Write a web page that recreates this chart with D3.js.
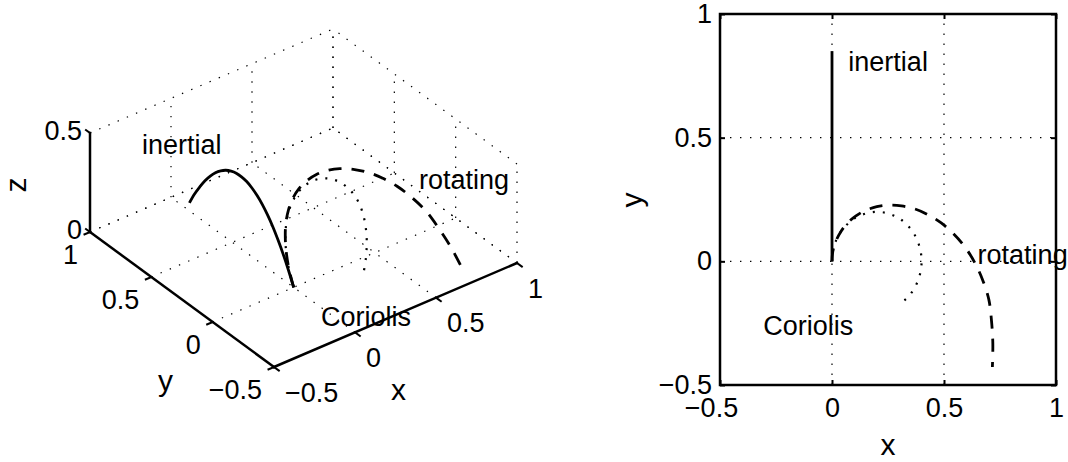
<!DOCTYPE html>
<html><head><meta charset="utf-8">
<script src="https://cdn.jsdelivr.net/npm/d3@7"></script>
<style>
body{margin:0;background:#fff}
svg{display:block}
text{font-family:"Liberation Sans",Arial,Helvetica,sans-serif;font-size:27px;fill:#000}
.lab{font-size:30px}
</style></head><body>
<svg id="c" width="1068" height="462"></svg>
<script>
// ---------------- data ----------------
const tickVals = [-0.5, 0, 0.5, 1];
const tickLabels = ["\u22120.5", "0", "0.5", "1"];
const zTickVals = [0, 0.5];
const zTickLabels = ["0", "0.5"];

const inertialX = [0,0,0,0,0,0,0,0,0,0,0,0,0,0,0,0,0,0,0,0,0];
const inertialY = [0,0.043,0.085,0.128,0.17,0.213,0.255,0.298,0.34,0.383,0.425,0.468,0.51,0.553,0.595,0.638,0.68,0.723,0.765,0.808,0.85];
const rotatingX = [0,0.004,0.018,0.040,0.069,0.107,0.150,0.200,0.253,0.310,0.369,0.428,0.486,0.541,0.592,0.636,0.672,0.700,0.712,0.718,0.716];
const rotatingY = [0,0.042,0.083,0.121,0.155,0.184,0.206,0.221,0.227,0.224,0.212,0.189,0.156,0.113,0.060,-0.003,-0.074,-0.154,-0.240,-0.332,-0.427];
const coriolisX = [0,0.004,0.017,0.038,0.067,0.101,0.139,0.180,0.222,0.263,0.301,0.335,0.363,0.383,0.396,0.400,0.395,0.382,0.361,0.332,0.298];
const coriolisY = [0,0.042,0.082,0.118,0.149,0.174,0.190,0.199,0.199,0.190,0.173,0.148,0.116,0.080,0.039,-0.002,-0.043,-0.082,-0.119,-0.151,-0.174];
const heightZ   = [0,0.068,0.128,0.182,0.229,0.269,0.302,0.328,0.347,0.360,0.365,0.364,0.355,0.340,0.318,0.289,0.253,0.210,0.160,0.104,0.040];

const labelNames = ["inertial", "rotating", "Coriolis"];
const labelPos2D = [[0.073, 0.768], [0.650, -0.011], [-0.307, -0.298]];
const labelPos3D = [[142, 154], [419, 189], [321, 326]];

// ---------------- styles ----------------
const svg = d3.select("#c");
const DOT = "1.4,8.6";
const DASH = "13,10";
const CDOT = "2,8";
function gridLine(g, a, b) {
  g.append("line").attr("x1", a[0]).attr("y1", a[1]).attr("x2", b[0]).attr("y2", b[1])
    .attr("stroke", "#000").attr("stroke-width", 1.2).attr("stroke-dasharray", DOT);
}
function solidLine(g, a, b, w) {
  g.append("line").attr("x1", a[0]).attr("y1", a[1]).attr("x2", b[0]).attr("y2", b[1])
    .attr("stroke", "#000").attr("stroke-width", w).attr("stroke-linecap", "square");
}
const series = [
  {xs: inertialX, ys: inertialY, dash: null, w: 2.8},
  {xs: rotatingX, ys: rotatingY, dash: DASH, w: 2.8},
  {xs: coriolisX, ys: coriolisY, dash: CDOT, w: 2.2}
];

// ---------------- 3D panel ----------------
const u3 = d3.scaleLinear().domain([-0.5, 1]).range([0, 1]);
const v3 = d3.scaleLinear().domain([-0.5, 1]).range([0, 1]);
const w3 = d3.scaleLinear().domain([0, 0.5]).range([0, 1]);
const O = [274, 367], EX = [243, -104], EY = [-184, -135], EZ = [0, -99];
function P(x, y, z) {
  const a = u3(x), b = v3(y), c = w3(z);
  return [O[0] + EX[0]*a + EY[0]*b + EZ[0]*c, O[1] + EX[1]*a + EY[1]*b + EZ[1]*c];
}
const g3 = svg.append("g");
const [x0, x1] = u3.domain(), [y0, y1] = v3.domain(), [z0, z1] = w3.domain();
// floor grid
tickVals.filter(t => t > x0).forEach(t => gridLine(g3, P(t, y0, z0), P(t, y1, z0)));
tickVals.filter(t => t > y0).forEach(t => gridLine(g3, P(x0, t, z0), P(x1, t, z0)));
// back wall y = max
tickVals.filter(t => t > x0).forEach(t => gridLine(g3, P(t, y1, z0), P(t, y1, z1)));
zTickVals.forEach(t => gridLine(g3, P(x0, y1, t), P(x1, y1, t)));
// back wall x = max
tickVals.forEach(t => gridLine(g3, P(x1, t, z0), P(x1, t, z1)));
zTickVals.forEach(t => gridLine(g3, P(x1, y0, t), P(x1, y1, t)));

// axes
solidLine(g3, P(x0, y0, z0), P(x1, y0, z0), 2.5);
solidLine(g3, P(x0, y0, z0), P(x0, y1, z0), 2.5);
solidLine(g3, P(x0, y1, z0), P(x0, y1, z1), 2.5);
function unit(v, s) { const n = Math.hypot(v[0], v[1]); return [v[0]/n*s, v[1]/n*s]; }
const tx = unit([-EY[0], -EY[1]], 6), ty = unit([-EX[0], -EX[1]], 6), tz = unit([EY[0], EY[1]], 5);
tickVals.forEach((t, i) => {
  const p = P(t, y0, z0);
  solidLine(g3, p, [p[0] + tx[0], p[1] + tx[1]], 2);
  g3.append("text").attr("x", p[0] + 11).attr("y", p[1] + 34.5).text(tickLabels[i]);
  const q = P(x0, t, z0);
  solidLine(g3, q, [q[0] + ty[0], q[1] + ty[1]], 2);
  g3.append("text").attr("x", q[0] - 12).attr("y", q[1] + 32).attr("text-anchor", "end").text(tickLabels[i]);
});
zTickVals.forEach((t, i) => {
  const p = P(x0, y1, t);
  solidLine(g3, p, [p[0] + tz[0], p[1] + tz[1]], 2);
  g3.append("text").attr("x", p[0] - 8).attr("y", p[1] + 7).attr("text-anchor", "end").text(zTickLabels[i]);
});
g3.append("text").attr("class", "lab").attr("x", 391).attr("y", 400).text("x");
g3.append("text").attr("class", "lab").attr("x", 158).attr("y", 391).text("y");
g3.append("text").attr("class", "lab").attr("text-anchor", "middle")
  .attr("transform", "translate(26,185) rotate(-90)").text("z");

const line3 = d3.line().curve(d3.curveCatmullRom.alpha(0.5));
series.forEach(s => {
  const pts = s.xs.map((x, i) => P(x, s.ys[i], heightZ[i]));
  g3.append("path").attr("d", line3(pts)).attr("fill", "none").attr("stroke", "#000")
    .attr("stroke-width", s.w).attr("stroke-dasharray", s.dash);
});
labelNames.forEach((n, i) => g3.append("text").attr("x", labelPos3D[i][0]).attr("y", labelPos3D[i][1]).text(n));

// ---------------- 2D panel ----------------
const x2 = d3.scaleLinear().domain([-0.5, 1]).range([720, 1056]);
const y2 = d3.scaleLinear().domain([-0.5, 1]).range([385, 14]);
const g2 = svg.append("g");
tickVals.filter(t => t > x0 && t < x1).forEach(t => gridLine(g2, [x2(t), y2(-0.5)], [x2(t), y2(1)]));
tickVals.filter(t => t > y0 && t < y1).forEach(t => gridLine(g2, [x2(-0.5), y2(t)], [x2(1), y2(t)]));

const fmt = (d) => tickLabels[tickVals.indexOf(d)];
function styleAxis(g) {
  g.select(".domain").remove();
  g.selectAll(".tick line").attr("stroke-width", 2);
  g.attr("font-size", 27).attr("font-family", null);
}
const axB = g2.append("g").attr("transform", "translate(0,385)")
  .call(d3.axisBottom(x2).tickValues(tickVals).tickFormat(fmt).tickSizeInner(-5).tickSizeOuter(0).tickPadding(13));
styleAxis(axB);
axB.selectAll(".tick text").attr("dx", d => d < 0 ? -9 : 0);
const axL = g2.append("g").attr("transform", "translate(720,0)")
  .call(d3.axisLeft(y2).tickValues(tickVals).tickFormat(fmt).tickSizeInner(-5).tickSizeOuter(0).tickPadding(8));
styleAxis(axL);
const axT = g2.append("g").attr("transform", "translate(0,14)")
  .call(d3.axisTop(x2).tickValues(tickVals).tickFormat("").tickSizeInner(-5).tickSizeOuter(0));
styleAxis(axT);
const axR = g2.append("g").attr("transform", "translate(1056,0)")
  .call(d3.axisRight(y2).tickValues(tickVals).tickFormat("").tickSizeInner(-5).tickSizeOuter(0));
styleAxis(axR);

g2.append("rect").attr("x", x2(-0.5)).attr("y", y2(1)).attr("width", x2(1) - x2(-0.5)).attr("height", y2(-0.5) - y2(1))
  .attr("fill", "none").attr("stroke", "#000").attr("stroke-width", 2.5);

const line2 = d3.line().x(d => x2(d[0])).y(d => y2(d[1])).curve(d3.curveCatmullRom.alpha(0.5));
series.forEach(s => {
  const pts = s.xs.map((x, i) => [x, s.ys[i]]);
  g2.append("path").attr("d", line2(pts)).attr("fill", "none").attr("stroke", "#000")
    .attr("stroke-width", s.w).attr("stroke-dasharray", s.dash);
});
labelNames.forEach((n, i) => g2.append("text").attr("x", x2(labelPos2D[i][0])).attr("y", y2(labelPos2D[i][1])).text(n));

g2.append("text").attr("class", "lab").attr("text-anchor", "middle").attr("x", 888).attr("y", 455).text("x");
g2.append("text").attr("class", "lab").attr("text-anchor", "middle")
  .attr("transform", "translate(642,200) rotate(-90)").text("y");
</script>
</body></html>
